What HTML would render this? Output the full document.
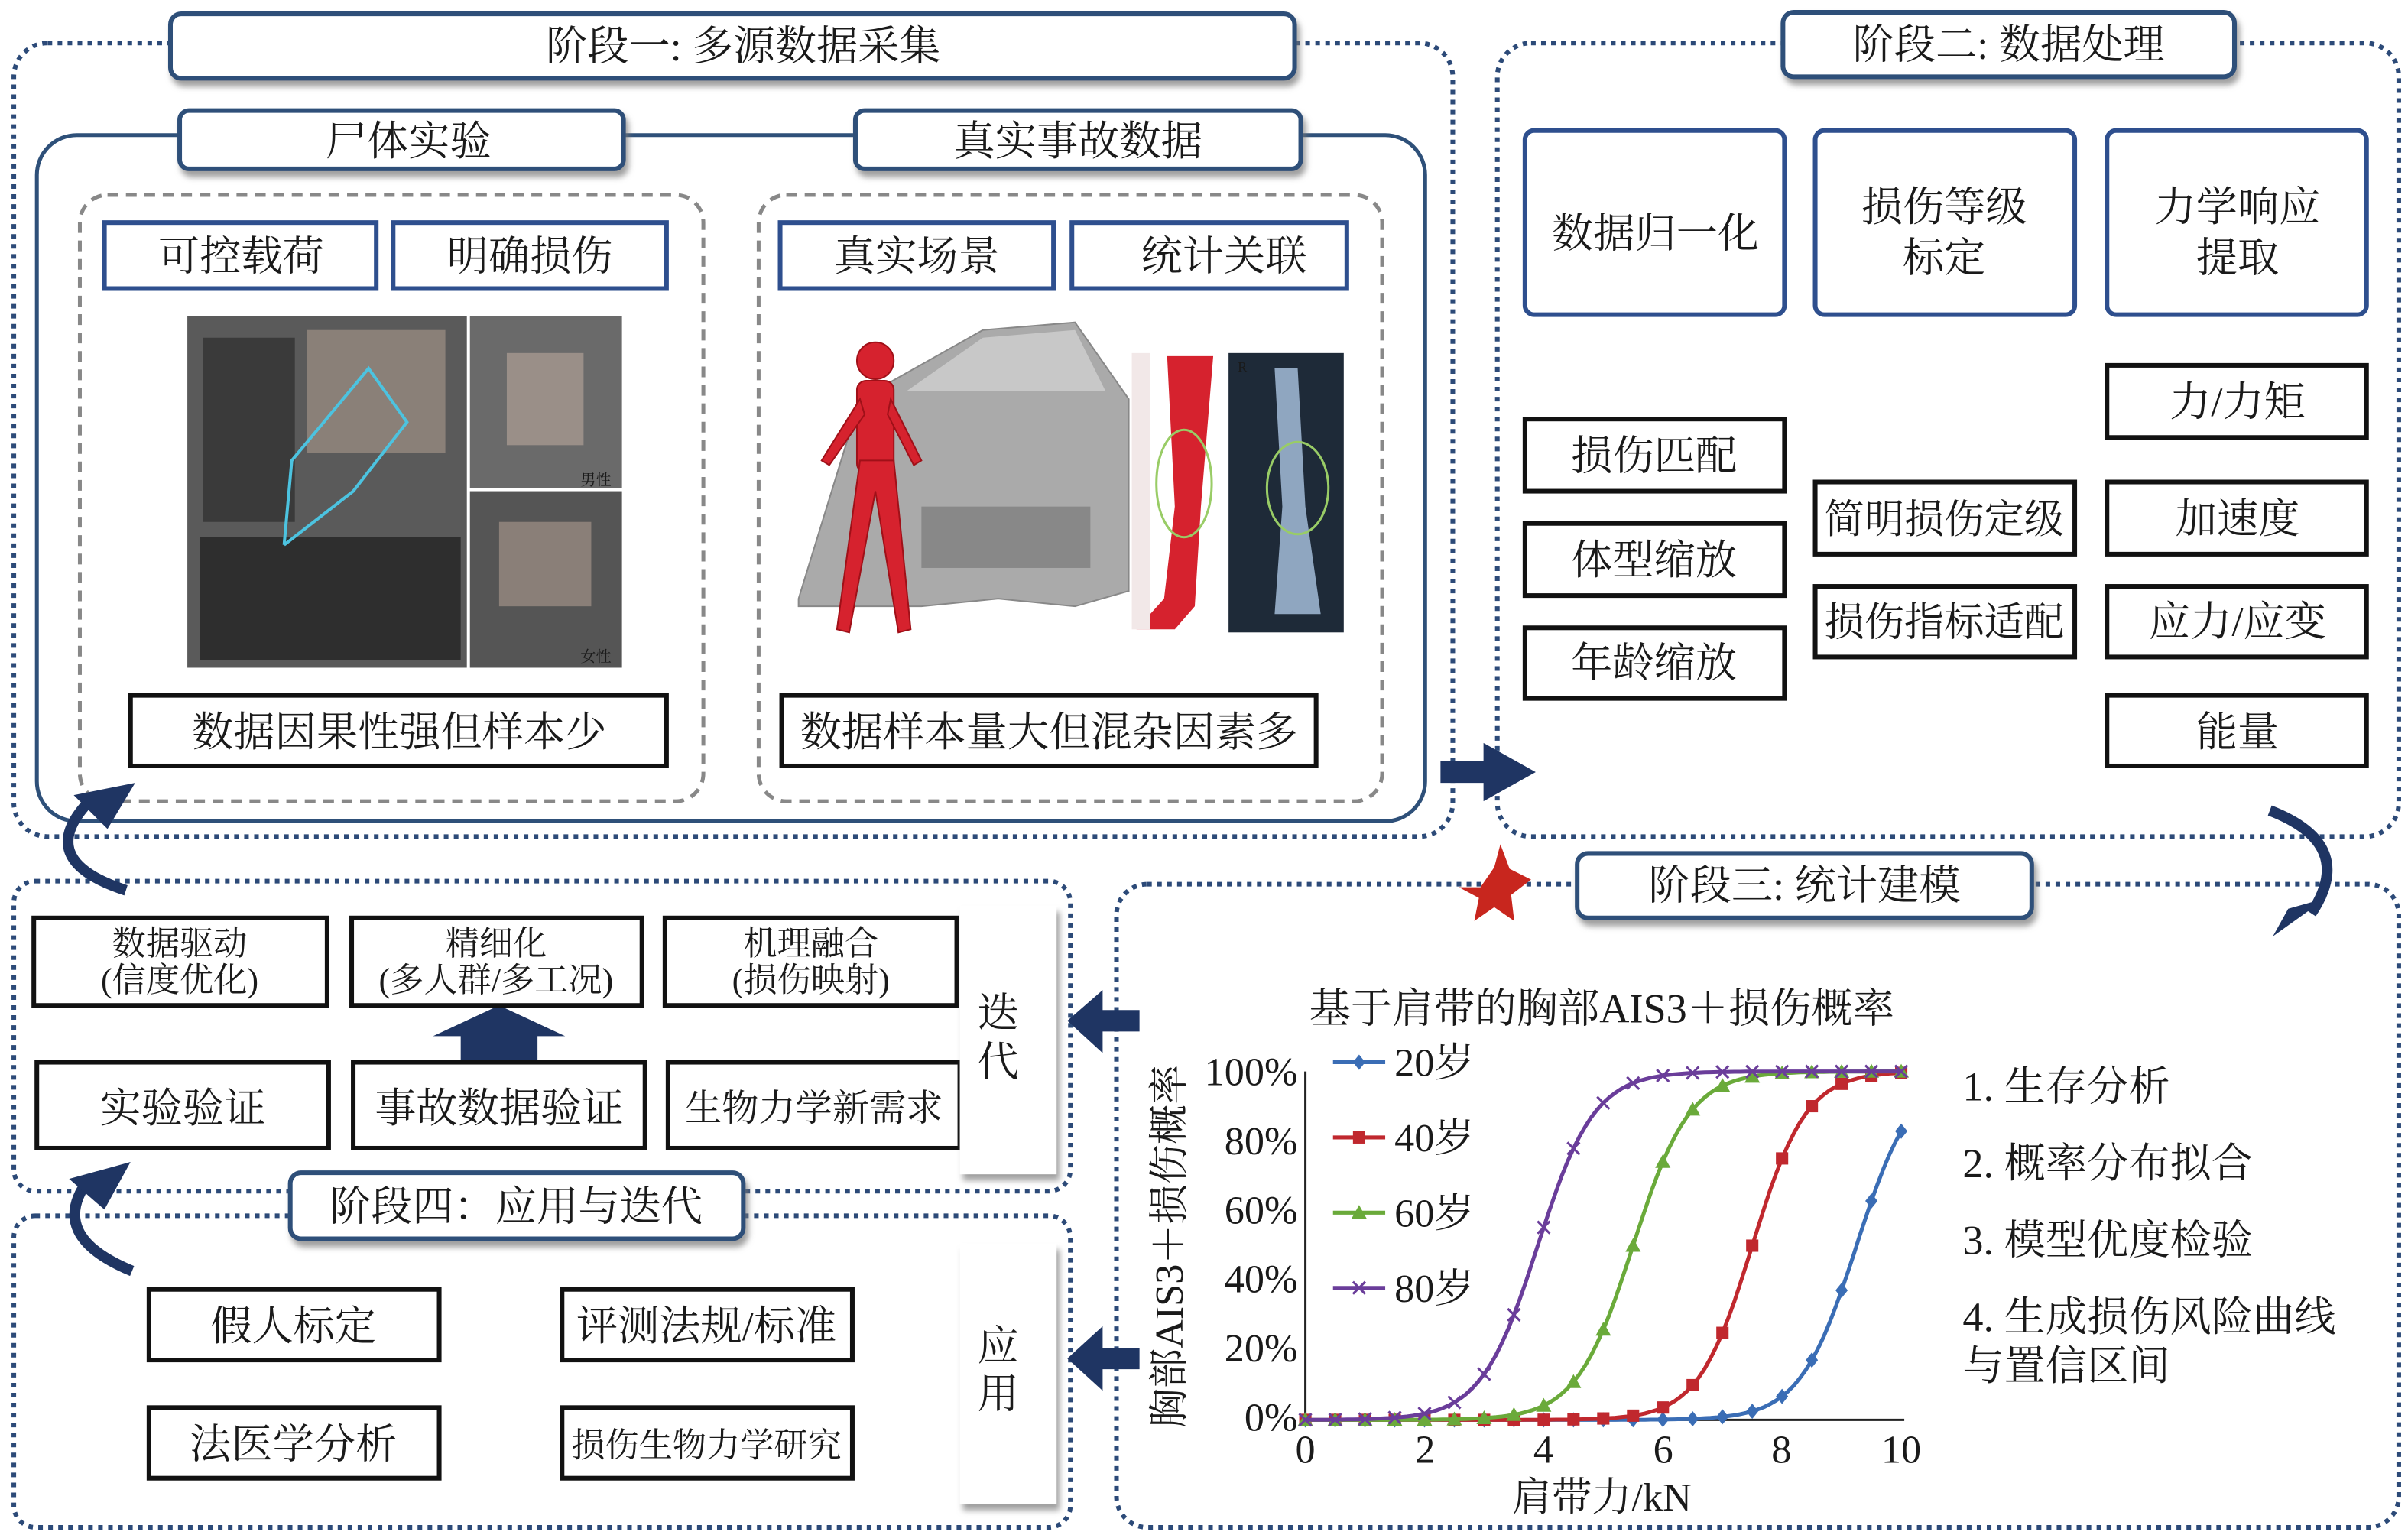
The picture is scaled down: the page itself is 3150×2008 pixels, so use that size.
<!DOCTYPE html>
<html><head><meta charset="utf-8">
<style>
html,body{margin:0;padding:0;background:#fff;}
svg{display:block;}
text{font-family:"Liberation Serif","Noto Serif CJK SC","Noto Sans CJK SC",serif;fill:#1a1a1a;}
</style></head>
<body>
<svg id="s" width="3150" height="2008" viewBox="0 0 1568 1000" preserveAspectRatio="none" xmlns="http://www.w3.org/2000/svg">
<defs>
<filter id="sh" x="-5%" y="-20%" width="115%" height="160%"><feDropShadow dx="2" dy="4" stdDeviation="2" flood-color="#777" flood-opacity="0.7"/></filter>
</defs>
<g fill="none" stroke="#2c4a78" stroke-width="3" stroke-dasharray="3 3.5">
<rect x="9" y="28" width="937" height="517" rx="22"/>
<rect x="975" y="28" width="587" height="517" rx="22"/>
<rect x="727" y="576" width="835" height="419" rx="20"/>
<rect x="9" y="574" width="688" height="202" rx="14"/>
<rect x="9" y="792" width="688" height="203" rx="14"/>
</g>
<rect x="24" y="88" width="904" height="447" rx="26" fill="none" stroke="#2e5079" stroke-width="2.5"/>
<g fill="none" stroke="#888" stroke-width="2.5" stroke-dasharray="7 5">
<rect x="52" y="127" width="406" height="395" rx="18"/>
<rect x="494" y="127" width="406" height="395" rx="18"/>
</g>
<g fill="#fff" stroke="#2e5079" stroke-width="3" filter="url(#sh)">
<rect x="111" y="9" width="732" height="42" rx="7"/>
<rect x="1161" y="8" width="294" height="42" rx="7"/>
<rect x="1027" y="556" width="296" height="42" rx="7"/>
<rect x="189" y="764" width="295" height="43" rx="7"/>
<rect x="117" y="72" width="289" height="38" rx="6"/>
<rect x="557" y="72" width="290" height="38" rx="6"/>
</g>
<g font-size="27" text-anchor="middle">
<text x="484" y="39">阶段一: 多源数据采集</text>
<text x="1308" y="38">阶段二: 数据处理</text>
<text x="1175" y="586">阶段三: 统计建模</text>
<text x="336" y="795">阶段四：应用与迭代</text>
<text x="266" y="101">尸体实验</text>
<text x="702" y="101">真实事故数据</text>
</g>
<g fill="#fff" stroke="#2e4f8e" stroke-width="3">
<rect x="68" y="145" width="177" height="43"/><rect x="256" y="145" width="178" height="43"/>
<rect x="508" y="145" width="178" height="43"/><rect x="698" y="145" width="179" height="43"/>
</g>
<g font-size="27" text-anchor="middle">
<text x="157" y="176">可控载荷</text><text x="345" y="176">明确损伤</text>
<text x="597" y="176">真实场景</text><text x="797" y="176">统计关联</text>
</g>
<!-- photos -->
<rect x="122" y="206" width="182" height="229" fill="#5a5a5a"/>
<rect x="132" y="220" width="60" height="120" fill="#3a3a3a"/>
<rect x="200" y="215" width="90" height="80" fill="#8a8078"/>
<rect x="130" y="350" width="170" height="80" fill="#2e2e2e"/>
<polyline points="185,355 230,320 265,275 240,240 190,300 185,355" fill="none" stroke="#4cc3e0" stroke-width="2"/>
<rect x="306" y="206" width="99" height="112" fill="#6a6a6a"/>
<rect x="330" y="230" width="50" height="60" fill="#9a8f88"/>
<rect x="306" y="320" width="99" height="115" fill="#555"/>
<rect x="325" y="340" width="60" height="55" fill="#8a7f78"/>
<text x="388" y="316" font-size="10" text-anchor="middle" fill="#fff">男性</text>
<text x="388" y="431" font-size="10" text-anchor="middle" fill="#fff">女性</text>
<path d="M520,390 L560,260 L640,215 L700,210 L735,260 L735,385 L700,395 L650,390 L600,395 L520,395Z" fill="#aaa" stroke="#888"/>
<path d="M590,255 L640,220 L700,215 L720,255 Z" fill="#c8c8c8"/>
<rect x="600" y="330" width="110" height="40" fill="#888"/>
<g fill="#d6222e" stroke="#a01018" stroke-width="1">
<circle cx="570" cy="235" r="12"/>
<rect x="558" y="248" width="24" height="60" rx="6"/>
<path d="M560,300 L545,410 L553,412 L570,320 L585,412 L593,410 L582,300Z"/>
<path d="M560,260 L535,300 L540,303 L563,270Z"/><path d="M580,260 L600,300 L595,303 L578,270Z"/>
</g>
<path d="M760,232 L790,232 L782,330 L778,395 L765,410 L740,410 L758,390 L765,330Z" fill="#d6222e"/>
<rect x="737" y="230" width="12" height="180" fill="#f2e8e8"/>
<ellipse cx="771" cy="315" rx="18" ry="35" fill="none" stroke="#9c6" stroke-width="1.5"/>
<rect x="800" y="230" width="75" height="182" fill="#1e2a38"/>
<path d="M830,240 L845,240 L850,330 L860,400 L830,400 L835,330Z" fill="#8fa6c0"/>
<ellipse cx="845" cy="318" rx="20" ry="30" fill="none" stroke="#9c6" stroke-width="1.5"/>
<text x="806" y="242" font-size="9" fill="#fff">R</text>
<g fill="#fff" stroke="#111" stroke-width="3">
<rect x="85" y="453" width="349" height="46"/><rect x="509" y="453" width="348" height="46"/>
</g>
<g font-size="27" text-anchor="middle">
<text x="260" y="486">数据因果性强但样本少</text><text x="683" y="486">数据样本量大但混杂因素多</text>
</g>
<!-- stage 2 -->
<g fill="#fff" stroke="#2e4f8e" stroke-width="3">
<rect x="993" y="85" width="169" height="120" rx="6"/><rect x="1182" y="85" width="169" height="120" rx="6"/><rect x="1372" y="85" width="169" height="120" rx="6"/>
</g>
<g font-size="27" text-anchor="middle">
<text x="1078" y="161">数据归一化</text>
<text x="1266" y="144">损伤等级</text><text x="1266" y="177">标定</text>
<text x="1457" y="144">力学响应</text><text x="1457" y="177">提取</text>
</g>
<g fill="#fff" stroke="#111" stroke-width="3">
<rect x="993" y="273" width="169" height="47"/><rect x="993" y="341" width="169" height="47"/><rect x="993" y="409" width="169" height="46"/>
<rect x="1182" y="314" width="169" height="47"/><rect x="1182" y="382" width="169" height="46"/>
<rect x="1372" y="238" width="169" height="47"/><rect x="1372" y="314" width="169" height="47"/><rect x="1372" y="382" width="169" height="46"/><rect x="1372" y="453" width="169" height="46"/>
</g>
<g font-size="27" text-anchor="middle">
<text x="1077" y="306">损伤匹配</text><text x="1077" y="374">体型缩放</text><text x="1077" y="441">年龄缩放</text>
<text x="1266" y="347" font-size="26">简明损伤定级</text><text x="1266" y="414" font-size="26">损伤指标适配</text>
<text x="1457" y="271">力/力矩</text><text x="1457" y="347">加速度</text><text x="1457" y="414">应力/应变</text><text x="1457" y="486">能量</text>
</g>
<!-- arrows -->
<g fill="#1f3563">
<path d="M938,496 L966,496 L966,484 L1000,503 L966,522 L966,510 L938,510Z"/>
<path d="M300,675 L350,675 L350,692 L300,692Z M282,675 L325,655 L368,675Z"/>
<path d="M742,658 L742,672 L718,672 L718,686 L695,665 L718,645 L718,658Z"/>
<path d="M742,878 L742,892 L718,892 L718,906 L695,885 L718,864 L718,878Z"/>
<path d="M964,578 L973,565 L977,550 L983,566 L997,573 L984,583 L986,600 L973,591 L960,600 L963,585 L950,578Z" fill="#c8261e"/>
</g>
<path d="M1478,528 Q1535,550 1505,595" fill="none" stroke="#1f3563" stroke-width="7"/>
<path d="M1490,592 L1515,585 L1480,610Z" fill="#1f3563"/>
<path d="M82,580 Q20,560 60,520" fill="none" stroke="#1f3563" stroke-width="7"/>
<path d="M48,518 L88,510 L70,540Z" fill="#1f3563"/>
<path d="M86,828 Q30,805 58,768" fill="none" stroke="#1f3563" stroke-width="7"/>
<path d="M45,768 L85,757 L68,788Z" fill="#1f3563"/>
<!-- stage 4 -->
<g fill="#fff" stroke="#111" stroke-width="3">
<rect x="22" y="598" width="191" height="57"/><rect x="229" y="598" width="189" height="57"/><rect x="433" y="598" width="190" height="57"/>
<rect x="24" y="692" width="190" height="56"/><rect x="230" y="692" width="190" height="56"/><rect x="435" y="692" width="190" height="56"/>
<rect x="97" y="840" width="189" height="46"/><rect x="366" y="840" width="189" height="46"/>
<rect x="97" y="917" width="189" height="46"/><rect x="366" y="917" width="189" height="46"/>
</g>
<g fill="#fff" filter="url(#sh)">
<rect x="625" y="590" width="63" height="175"/><rect x="625" y="810" width="63" height="170"/>
</g>
<g font-size="22" text-anchor="middle">
<text x="117" y="622">数据驱动</text><text x="117" y="646">(信度优化)</text>
<text x="323" y="622">精细化</text><text x="323" y="646">(多人群/多工况)</text>
<text x="528" y="622">机理融合</text><text x="528" y="646">(损伤映射)</text>
</g>
<g font-size="27" text-anchor="middle">
<text x="119" y="731">实验验证</text><text x="325" y="731">事故数据验证</text>
<text x="530" y="730" font-size="24">生物力学新需求</text>
<text x="191" y="873">假人标定</text><text x="460" y="873">评测法规/标准</text>
<text x="191" y="950">法医学分析</text><text x="460" y="949" font-size="22">损伤生物力学研究</text>
<text x="650" y="669">迭</text><text x="650" y="701">代</text>
<text x="650" y="886">应</text><text x="650" y="917">用</text>
</g>
<!-- chart -->
<text x="1043" y="666" font-size="27" text-anchor="middle">基于肩带的胸部AIS3＋损伤概率</text>
<g stroke="#222" stroke-width="1.5" fill="none"><path d="M850,698 L850,925 L1240,925"/></g>
<g font-size="26" text-anchor="end">
<text x="845" y="707">100%</text><text x="845" y="752">80%</text><text x="845" y="797">60%</text><text x="845" y="842">40%</text><text x="845" y="887">20%</text><text x="845" y="932">0%</text>
</g>
<g font-size="26" text-anchor="middle">
<text x="850" y="953">0</text><text x="928" y="953">2</text><text x="1005" y="953">4</text><text x="1083" y="953">6</text><text x="1160" y="953">8</text><text x="1238" y="953">10</text>
<text x="1043" y="984">肩带力/kN</text>
<text transform="translate(770,812) rotate(-90)">胸部AIS3＋损伤概率</text>
</g>
<g id="curves"></g>
<g font-size="26">
<text x="908" y="701">20岁</text><text x="908" y="750">40岁</text><text x="908" y="799">60岁</text><text x="908" y="848">80岁</text>
</g>
<g font-size="27">
<text x="1278" y="717">1. 生存分析</text><text x="1278" y="767">2. 概率分布拟合</text><text x="1278" y="817">3. 模型优度检验</text><text x="1278" y="867">4. 生成损伤风险曲线</text><text x="1278" y="899">与置信区间</text>
</g>
<script>
(function(){
var g=document.getElementById('curves'),NS='http://www.w3.org/2000/svg';
var S=[['#3a6db5',9.25,2.1,'d',692],['#c0282e',7.5,2.2,'s',741],['#6aaa3a',5.5,2.1,'t',790],['#6a3d9a',3.9,2.1,'x',839]];
function mk(t,a){var e=document.createElementNS(NS,t);for(var k in a)e.setAttribute(k,a[k]);g.appendChild(e);return e;}
function mark(c,ty,x,y){
 if(ty=='d')mk('path',{d:'M'+x+','+(y-5)+' L'+(x+4)+','+y+' L'+x+','+(y+5)+' L'+(x-4)+','+y+'Z',fill:c});
 else if(ty=='s')mk('rect',{x:x-4,y:y-4,width:8,height:8,fill:c});
 else if(ty=='t')mk('path',{d:'M'+x+','+(y-5)+' L'+(x+5)+','+(y+4)+' L'+(x-5)+','+(y+4)+'Z',fill:c});
 else mk('path',{d:'M'+(x-4)+','+(y-4)+' L'+(x+4)+','+(y+4)+' M'+(x+4)+','+(y-4)+' L'+(x-4)+','+(y+4),stroke:c,'stroke-width':1.5});
}
S.forEach(function(s){
 var d='';for(var i=0;i<=100;i++){var X=i/10,p=1/(1+Math.exp(-s[2]*(X-s[1])));d+=(i?'L':'M')+(850+X*38.8).toFixed(1)+','+(925-p*227).toFixed(1);}
 mk('path',{d:d,fill:'none',stroke:s[0],'stroke-width':2.5});
 for(var X=0;X<=10.01;X+=0.5){var p=1/(1+Math.exp(-s[2]*(X-s[1])));mark(s[0],s[3],850+X*38.8,925-p*227);}
 mk('line',{x1:868,y1:s[4],x2:902,y2:s[4],stroke:s[0],'stroke-width':2.5});mark(s[0],s[3],885,s[4]);
});
})();
</script>
</svg>
</body></html>
